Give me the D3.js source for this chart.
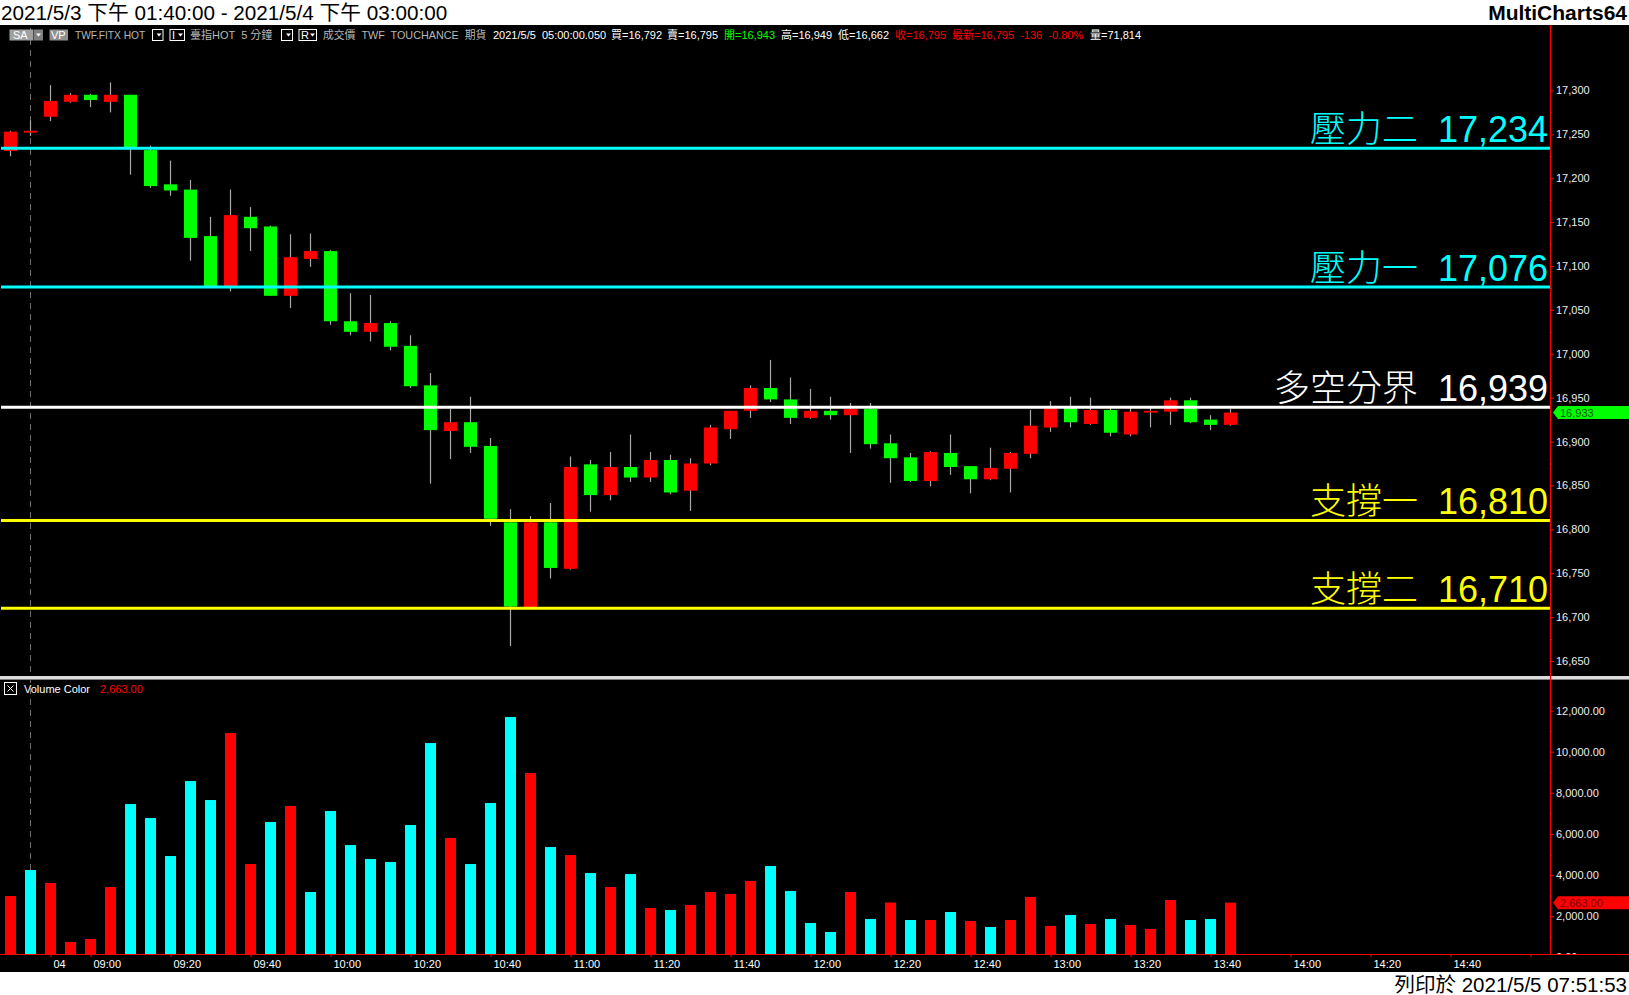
<!DOCTYPE html>
<html><head><meta charset="utf-8">
<script src="https://cdn.jsdelivr.net/npm/d3@7"></script>
<style>
html,body{margin:0;padding:0;background:#fff;overflow:hidden;}
svg{display:block;}
text{font-family:"Liberation Sans",Arial,"Noto Sans CJK TC",sans-serif;}
</style></head>
<body><svg id="c" width="1629" height="995"></svg>
<script>
// ---------------- DATA ----------------
const prevDaySlots = ["5/3 13:40", "5/3 13:45"];
const daySessionStart = "08:50", axisEnd = "15:00";

const opens  = [17231,17252,17270,17287,17295,17287,17295,17232,17193,17187,17134,17077,17156,17145,17066,17108,17117,17037,17025,17035,17009,16964,16912,16922,16895,16808,16711,16808,16755,16874,16839,16871,16859,16879,16844,16875,16914,16935,16961,16948,16927,16935,16930,16937,16898,16882,16855,16887,16872,16857,16869,16886,16916,16939,16920,16936,16908,16933,16934,16947,16925,16919];
const highs  = [17254,17266,17306,17297,17296,17309,17295,17237,17220,17198,17156,17187,17167,17146,17136,17137,17118,17069,17067,17037,17021,16978,16937,16951,16904,16823,16815,16830,16883,16879,16888,16908,16888,16885,16881,16919,16935,16964,16993,16973,16960,16951,16944,16944,16908,16887,16889,16908,16872,16893,16888,16936,16946,16951,16950,16939,16940,16939,16950,16950,16930,16937];
const lows   = [17225,17248,17265,17286,17281,17275,17204,17189,17180,17106,17076,17071,17117,17066,17052,17099,17033,17021,17014,17004,16961,16852,16880,16887,16804,16667,16709,16744,16754,16820,16833,16854,16854,16840,16821,16873,16903,16927,16945,16920,16926,16925,16887,16892,16853,16854,16849,16862,16841,16856,16842,16881,16911,16916,16919,16906,16906,16916,16919,16921,16913,16918];
const closes = [17253,17254,17288,17295,17289,17295,17235,17191,17186,17132,17077,17158,17143,17066,17110,17117,17037,17025,17035,17008,16963,16913,16922,16894,16812,16712,16808,16756,16871,16839,16871,16859,16879,16842,16875,16916,16935,16961,16948,16927,16935,16930,16937,16897,16881,16855,16888,16871,16857,16870,16887,16918,16938,16922,16936,16910,16934,16935,16947,16922,16919,16933];

const volumes = [2985,4249,3617,749,895,3423,7457,6777,4929,8576,7652,10909,4540,6583,7360,3180,7117,5464,4784,4638,6437,10422,5804,4540,7506,11688,8965,5366,4978,4103,3423,4054,2402,2305,2548,3180,3083,3714,4443,3228,1673,1235,3180,1867,2670,1818,1818,2207,1770,1478,1818,2937,1527,2061,1624,1867,1575,1381,2791,1818,1867,2663];
const volumeUp = [1,0,1,1,1,1,0,0,0,0,0,1,1,0,1,0,0,0,0,0,0,0,1,0,0,0,1,0,1,0,1,0,1,0,1,1,1,1,0,0,0,0,1,0,1,0,1,0,1,0,1,1,1,0,1,0,1,1,1,0,0,1];

const levelNames  = ["壓力二","壓力一","多空分界","支撐一","支撐二"];
const levelValues = [17234, 17076, 16939, 16810, 16710];

const priceTicks = [16650,16700,16750,16800,16850,16900,16950,17000,17050,17100,17150,17200,17250,17300];
const volumeTicks = [0,2000,4000,6000,8000,10000,12000];
const timeTickSlots  = ["08:50","09:00","09:20","09:40","10:00","10:20","10:40","11:00","11:20","11:40","12:00","12:20","12:40","13:00","13:20","13:40","14:00","14:20","14:40","15:00"];
const timeTickLabels = ["04","09:00","09:20","09:40","10:00","10:20","10:40","11:00","11:20","11:40","12:00","12:20","12:40","13:00","13:20","13:40","14:00","14:20","14:40",""];

const titleText = "2021/5/3 下午 01:40:00 - 2021/5/4 下午 03:00:00";
const brandText = "MultiCharts64";
const printText = "列印於 2021/5/5 07:51:53";
const legendName = "Volume Color";

// ---------------- STYLE ----------------
const C = {up:"#ff0000", down:"#00ff00", wick:"#a8a8a8", volUp:"#ff0000", volDown:"#00ffff",
  axis:"#ff0000", label:"#eeeeee"};
const levelColors = ["#00ffff","#00ffff","#ffffff","#ffff00","#ffff00"];

// ---------------- LAYOUT ----------------
const W = 1629, H = 995;
const blackTop = 25, blackBottom = 972;
const plotRight = 1550;
const volBase = 954;

const svg = d3.select("#c");
svg.append("rect").attr("x",0).attr("y",0).attr("width",W).attr("height",H).attr("fill","#fff");
svg.append("rect").attr("x",0).attr("y",blackTop).attr("width",W).attr("height",blackBottom-blackTop).attr("fill","#000");

// scales
const tp = d3.timeParse("%H:%M"), tf = d3.timeFormat("%H:%M");
const daySlots = d3.timeMinutes(tp(daySessionStart), d3.timeMinute.offset(tp(axisEnd), 1), 5).map(tf);
const slots = prevDaySlots.concat(daySlots);
const x = d3.scalePoint().domain(slots).range([10.5, 1530.5]);
const yP = d3.scaleLinear().domain([16650, 17300]).range([661, 90.4]);
const yV = d3.scaleLinear().domain([0, 12000]).range([957.4, 710.6]);

const bars = opens.map((o,i)=>({slot:slots[i], o, h:highs[i], l:lows[i], c:closes[i], v:volumes[i], vu:volumeUp[i]}));

// session separator (dashed)
svg.append("line").attr("x1",x(slots[1])).attr("x2",x(slots[1])).attr("y1",blackTop+3).attr("y2",volBase)
  .attr("stroke","#6e6e6e").attr("stroke-width",1).attr("stroke-dasharray","6,5");

// ---------------- CANDLES ----------------
const cg = svg.append("g");
cg.selectAll("line.w").data(bars).join("line").attr("class","w")
  .attr("x1",d=>x(d.slot)).attr("x2",d=>x(d.slot))
  .attr("y1",d=>yP(d.h)).attr("y2",d=>yP(d.l))
  .attr("stroke",C.wick).attr("stroke-width",1.2);
const bw = x.step()*0.65;
cg.selectAll("rect.b").data(bars).join("rect").attr("class","b")
  .attr("x",d=>x(d.slot)-bw/2).attr("width",bw)
  .attr("y",d=>yP(Math.max(d.o,d.c)))
  .attr("height",d=>Math.max(1.8, Math.abs(yP(d.o)-yP(d.c))))
  .attr("fill",d=>d.c>=d.o?C.up:C.down);

// ---------------- LEVELS ----------------
const lg = svg.append("g");
levelValues.forEach((v,i)=>{
  lg.append("line").attr("x1",1).attr("x2",plotRight).attr("y1",yP(v)).attr("y2",yP(v))
    .attr("stroke",levelColors[i]).attr("stroke-width",3);
  lg.append("text").attr("x",plotRight-2).attr("y",yP(v)-6.5).attr("text-anchor","end")
    .attr("font-size",36).attr("font-weight",300).attr("fill",levelColors[i])
    .text(levelNames[i]+"\u00a0\u00a0"+d3.format(",")(v));
});

// separator between panels
svg.append("rect").attr("x",0).attr("y",676).attr("width",W).attr("height",3.5).attr("fill","#dcdcdc");
svg.append("line").attr("x1",0).attr("x2",W).attr("y1",679.5).attr("y2",679.5).attr("stroke","#808080").attr("stroke-width",1);

// ---------------- VOLUME ----------------
const vb = 11;
svg.append("g").selectAll("rect").data(bars).join("rect")
  .attr("x",d=>x(d.slot)-vb/2).attr("width",vb)
  .attr("y",d=>yV(d.v)).attr("height",d=>volBase-yV(d.v))
  .attr("fill",d=>d.vu?C.volUp:C.volDown);

// ---------------- AXES ----------------
function styleAxis(g){
  g.select(".domain").remove();
  g.selectAll(".tick line").attr("stroke",C.axis);
  g.selectAll(".tick text").attr("fill",C.label).attr("font-size",11)
    .attr("font-family",'"Liberation Sans",Arial,sans-serif');
}
// price axis
svg.append("g").attr("transform",`translate(${plotRight},0)`)
  .call(d3.axisRight(yP).tickValues(priceTicks).tickSize(4).tickPadding(2).tickFormat(d3.format(",")))
  .call(styleAxis);
svg.append("g").attr("transform",`translate(${plotRight},0)`)
  .call(d3.axisRight(yP).tickValues(priceTicks.slice(0,-1).map(d=>d+25)).tickSize(2).tickFormat(""))
  .call(styleAxis);
// volume axis (clipped at baseline)
svg.append("clipPath").attr("id","vclip").append("rect").attr("x",plotRight).attr("y",680).attr("width",80).attr("height",volBase-680+1);
const va = svg.append("g").attr("clip-path","url(#vclip)");
va.append("g").attr("transform",`translate(${plotRight},0)`)
  .call(d3.axisRight(yV).tickValues(volumeTicks).tickSize(4).tickPadding(2).tickFormat(d3.format(",.2f")))
  .call(styleAxis);
va.append("g").attr("transform",`translate(${plotRight},0)`)
  .call(d3.axisRight(yV).tickValues(volumeTicks.slice(0,-1).map(d=>d+1000)).tickSize(2).tickFormat(""))
  .call(styleAxis);
// axis lines
svg.append("line").attr("x1",plotRight+0.5).attr("x2",plotRight+0.5).attr("y1",blackTop).attr("y2",volBase)
  .attr("stroke",C.axis).attr("stroke-width",1.2);
svg.append("line").attr("x1",0).attr("x2",W).attr("y1",volBase+0.5).attr("y2",volBase+0.5)
  .attr("stroke",C.axis).attr("stroke-width",1.2);
// time axis
const xa = svg.append("g").attr("transform",`translate(0,${volBase})`)
  .call(d3.axisBottom(x).tickValues(timeTickSlots).tickSize(3).tickPadding(3)
    .tickFormat((d,i)=>timeTickLabels[i]))
  .call(styleAxis);
xa.selectAll(".tick text").attr("text-anchor","start").attr("x",2.5).attr("fill","#ffffff");

// ---------------- MARKERS ----------------
const last = bars[bars.length-1];
function marker(yc, fill, txt, tcol){
  const pts = [[plotRight+3,yc],[plotRight+8,yc-6.5],[W,yc-6.5],[W,yc+6.5],[plotRight+8,yc+6.5]];
  svg.append("polygon").attr("points",pts.map(p=>p.join(",")).join(" ")).attr("fill",fill);
  svg.append("text").attr("x",plotRight+10).attr("y",yc).attr("dy","0.36em").attr("font-size",11)
    .attr("fill",tcol).text(txt);
}
marker(yP(last.c), "#00ff00", d3.format(",")(last.c), "#005a00");
marker(yV(last.v), "#ff0000", d3.format(",.2f")(last.v), "#7a0000");

// volume legend
svg.append("rect").attr("x",4.5).attr("y",682.5).attr("width",12).attr("height",12).attr("fill","none").attr("stroke","#fff");
svg.append("path").attr("d","M7.5,685.5 L13.5,691.5 M13.5,685.5 L7.5,691.5").attr("stroke","#fff").attr("stroke-width",1);
svg.append("text").attr("x",24).attr("y",693).attr("font-size",11).attr("fill","#fff").text(legendName);
svg.append("text").attr("x",100).attr("y",693).attr("font-size",11).attr("fill","#ff0000").text(d3.format(",.2f")(last.v));

// ---------------- TITLE / FOOTER ----------------
svg.append("text").attr("x",1).attr("y",20).attr("font-size",20.7).attr("fill","#000").text(titleText);
svg.append("text").attr("x",W-2).attr("y",20).attr("font-size",21).attr("font-weight","bold").attr("text-anchor","end").attr("fill","#000").text(brandText);
svg.append("text").attr("x",W-2).attr("y",991.5).attr("font-size",20.5).attr("text-anchor","end").attr("fill","#000").text(printText);

// ---------------- TOOLBAR ----------------
const tb = svg.append("g");
const ty = 39;
// SA box
tb.append("rect").attr("x",9.5).attr("y",29.5).attr("width",24).attr("height",11).attr("fill","#a0a0a0");
tb.append("rect").attr("x",34).attr("y",29.5).attr("width",9).attr("height",11).attr("fill","#808080");
tb.append("text").attr("x",13).attr("y",ty).attr("font-size",11).attr("fill","#fff").text("SA");
tb.append("path").attr("d","M36,33.5 L41,33.5 L38.5,36.5 Z").attr("fill","#fff");
// VP box
tb.append("rect").attr("x",49.5).attr("y",29.5).attr("width",18.5).attr("height",11).attr("fill","#909090");
tb.append("text").attr("x",51).attr("y",ty).attr("font-size",11).attr("fill","#fff").text("VP");
function dd(x0, w, label){
  tb.append("rect").attr("x",x0+0.5).attr("y",29.5).attr("width",w).attr("height",11).attr("fill","#000").attr("stroke","#fff");
  if(label) tb.append("text").attr("x",x0+2.5).attr("y",ty).attr("font-size",11).attr("fill","#fff").text(label);
  const ax = x0 + w - 6;
  tb.append("path").attr("d",`M${ax},33.5 L${ax+5},33.5 L${ax+2.5},36.5 Z`).attr("fill","#fff");
}
dd(152, 10.5, "");
dd(169.5, 14.5, "I");
dd(281, 11, "");
dd(298.5, 17.5, "R");
const items = [
  [75,"TWF.FITX HOT","#b8b8b8",10.2],[190,"臺指HOT  5 分鐘","#b8b8b8",11],[323,"成交價  TWF  TOUCHANCE  期貨","#b8b8b8",10.8],
  [493,"2021/5/5  05:00:00.050","#ffffff",11],[611,"買=16,792","#ffffff",11],[667,"賣=16,795","#ffffff",11],
  [724,"開=16,943","#00ff00",11],[781,"高=16,949","#ffffff",11],[838,"低=16,662","#ffffff",11],
  [895,"收=16,795","#ff0000",11],[952,"最新=16,795  -136  -0.80%","#ff0000",11],[1090,"量=71,814","#ffffff",11]
];
items.forEach(([xx,t,c,fs])=>{
  tb.append("text").attr("x",xx).attr("y",ty).attr("font-size",fs).attr("fill",c)
    .attr("xml:space","preserve").style("white-space","pre").text(t);
});
</script>
</body></html>
